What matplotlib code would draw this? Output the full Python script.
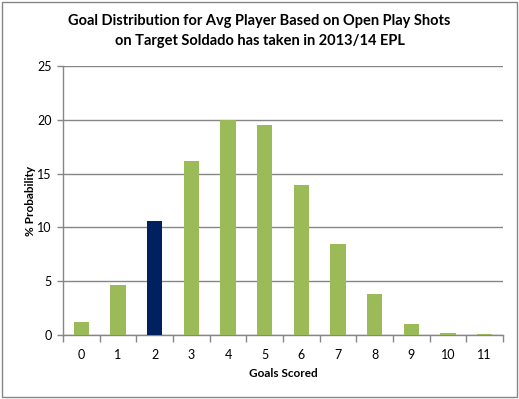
import numpy as np
import matplotlib
matplotlib.use("Agg")
from matplotlib import pyplot as plt
from matplotlib.patches import Rectangle

goals = ["0", "1", "2", "3", "4", "5", "6", "7", "8", "9", "10", "11"]
probability = [1.2, 4.65, 10.6, 16.2, 20.0, 19.55, 13.9, 8.5, 3.8, 1.0, 0.2, 0.07]
highlight = "2"

green = "#9BBB59"
navy = "#002060"
grey = "#868686"

plt.rcParams["font.family"] = ["Lato", "DejaVu Sans"]

fig = plt.figure(figsize=(5.19, 3.99), dpi=100)
ax = fig.add_axes([63 / 519, 1 - 335 / 399, 440 / 519, 269 / 399])

x = np.arange(len(goals))
colors = [navy if g == highlight else green for g in goals]
ax.bar(x, probability, width=0.41, color=colors, zorder=3)

ax.set_xlim(-0.5, len(goals) - 0.5)
ax.set_ylim(0, 25)
ax.set_yticks(np.arange(0, 26, 5))
ax.set_xticks(x)
ax.set_xticklabels(goals)
ax.set_xticks(np.arange(-0.5, len(goals), 1), minor=True)
ax.tick_params(axis="x", which="major", length=0, pad=10, labelsize=9)
ax.tick_params(axis="x", which="minor", length=5, color=grey, width=1)
ax.tick_params(axis="y", length=4, color=grey, width=1, labelsize=9, pad=4)
ax.grid(axis="y", color=grey, linewidth=1, zorder=0)

for side in ["top", "right"]:
    ax.spines[side].set_visible(False)
for side in ["left", "bottom"]:
    ax.spines[side].set_color(grey)
    ax.spines[side].set_linewidth(1)

ax.set_xlabel("Goals Scored", fontsize=8.5, fontweight="bold", labelpad=5)
ax.set_ylabel("% Probability", fontsize=8.5, fontweight="bold")
ax.yaxis.set_label_coords(-0.062, 0.5)

fig.text(0.5, 1 - 31 / 399,
         "Goal Distribution for Avg Player Based on Open Play Shots\non Target Soldado has taken in 2013/14 EPL",
         ha="center", va="center", fontsize=10.5, fontweight="bold", linespacing=1.55)

fig.patches.append(Rectangle((2 / 519, 2 / 399), 515 / 519, 395 / 399,
                             transform=fig.transFigure, fill=False,
                             edgecolor=grey, linewidth=1))

fig.savefig("out.png", dpi=100)
